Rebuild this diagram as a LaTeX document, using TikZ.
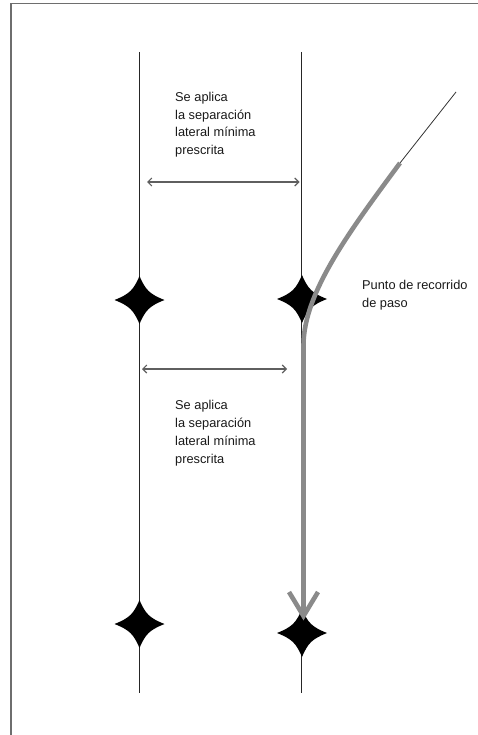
\documentclass[tikz,border=0pt]{standalone}
\usepackage{fontspec}
\setmainfont{Liberation Sans}
\usetikzlibrary{arrows.meta}
\definecolor{routegray}{RGB}{138,138,138}
\definecolor{framegray}{RGB}{110,110,110}
\definecolor{arrowgray}{RGB}{95,95,95}
\begin{document}
\begin{tikzpicture}[x=1pt,y=-1pt,
  frame/.style={line width=1.6pt, framegray},
  track/.style={line width=0.9pt, black!85},
  thinroute/.style={line width=0.8pt, black!80},
  sepline/.style={line width=1.1pt, arrowgray, {Straight Barb[length=4pt,width=8pt]}-{Straight Barb[length=4pt,width=8pt]}},
  route/.style={line width=4.6pt, routegray},
  lbl/.style={align=left, anchor=north west, inner sep=0pt, text=black!90, font=\fontsize{12.8}{17.7}\selectfont},
  sstar/.pic={\fill[black] (25,0) .. controls (10,6) and (6,10) .. (0,24) .. controls (-6,10) and (-10,6) .. (-25,0) .. controls (-10,-6) and (-6,-10) .. (0,-24) .. controls (6,-10) and (10,-6) .. cycle;}
]
\useasboundingbox (0,0) rectangle (478,735);
% frame
\coordinate (fa) at (11,735);
\coordinate (fb) at (11,3.5);
\coordinate (fc) at (478,3.5);
\draw[frame] (fa) -- (fb) -- (fc);
% tracks
\coordinate (lt) at (139.5,52);
\coordinate (lb) at (139.5,693);
\coordinate (rt) at (301.5,52);
\coordinate (rb) at (301.5,693);
\draw[track] (lt) -- (lb);
\draw[track] (rt) -- (rb);
% route
\coordinate (r0) at (456,92);
\coordinate (rs) at (400,163);
\coordinate (rv) at (303.5,345);
\coordinate (tip) at (303.5,616);
\coordinate (ah1) at (289,592);
\coordinate (ah2) at (318,592);
\draw[thinroute] (r0) -- (rs);
% waypoints
\coordinate (w1) at (139.5,300);
\coordinate (w2) at (302,299);
\coordinate (w3) at (139.5,624);
\coordinate (w4) at (302,633);
\pic at (w1) {sstar};
\pic at (w2) {sstar};
\pic at (w3) {sstar};
\pic at (w4) {sstar};
% route drawn over the waypoints
\draw[route] (rs) .. controls (352,228) and (303.5,292) .. (rv) -- (tip);
\draw[route, line join=miter] (ah1) -- (tip) -- (ah2);
% separation arrows
\coordinate (a1) at (147,182);
\coordinate (a2) at (299.5,182);
\coordinate (b1) at (142,369);
\coordinate (b2) at (287,369);
\draw[sepline] (a1) -- (a2);
\draw[sepline] (b1) -- (b2);
% labels
\node[lbl] (t1) at (175,92) {Se aplica\\la separación\\lateral mínima\\prescrita};
\node[lbl] (t2) at (175,400.5) {Se aplica\\la separación\\lateral mínima\\prescrita};
\node[lbl] (t3) at (362,280) {Punto de recorrido\\de paso};
\end{tikzpicture}
\end{document}
